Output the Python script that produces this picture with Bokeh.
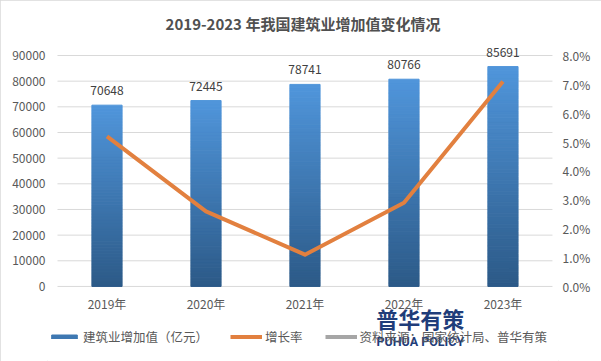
import numpy as np
from bokeh.plotting import figure
from bokeh.core.properties import value
from bokeh.models import (ColumnDataSource, Range1d, LinearAxis, FixedTicker, InlineStyleSheet,
                          PrintfTickFormatter, LabelSet, Label, Legend, LegendItem)
from bokeh.embed import file_html
from bokeh.resources import INLINE

# ---- data ----
years = ["2019年", "2020年", "2021年", "2022年", "2023年"]
value_added = [70648, 72445, 78741, 80766, 85691]   # 亿元
growth = [5.2, 2.6, 1.1, 2.9, 7.1]                    # %
left_ticks = [0, 10000, 20000, 30000, 40000, 50000, 60000, 70000, 80000, 90000]
right_ticks = [0, 1, 2, 3, 4, 5, 6, 7, 8]
series_names = ["建筑业增加值（亿元）", "增长率", "资料来源：国家统计局、普华有策"]
chart_title = "2019-2023 年我国建筑业增加值变化情况"
watermark = ["普华有策", "PUHUA POLICY"]

FONT = "Noto Sans CJK SC"
TXT = "#595959"
xs = np.arange(len(years)) + 0.5

# y axis: 90000 <-> 8 %, the frame extends below zero to host the category labels / legend
Y0, Y1 = -29250, 95850
P0, P1 = Y0 / 90000 * 8, Y1 / 90000 * 8

p = figure(width=601, height=361, output_backend="svg", toolbar_location=None,
           x_range=Range1d(-0.101, 5.061), y_range=Range1d(Y0, Y1),
           x_axis_location=None,
           min_border_left=47, min_border_right=43, min_border_top=40, min_border_bottom=0,
           title=chart_title)
p.stylesheets = [InlineStyleSheet(css=":host { outline: 1px solid #d9d9d9; outline-offset: -1px; }")]
p.outline_line_color = None
p.background_fill_color = "white"
p.border_fill_color = "white"
p.extra_y_ranges = {"pct": Range1d(P0, P1)}
p.xgrid.grid_line_color = None
p.ygrid.grid_line_color = None

p.title.align = "center"
p.title.text_font = FONT
p.title.text_font_size = "15px"
p.title.text_font_style = "bold"
p.title.text_color = "#505050"
p.title.standoff = 13

def style_axis(ax, standoff):
    ax.axis_line_color = None
    ax.major_tick_line_color = None
    ax.minor_tick_line_color = None
    ax.major_tick_out = 0
    ax.major_tick_in = 0
    ax.major_label_text_font = FONT
    ax.major_label_text_font_size = "12px"
    ax.major_label_text_color = TXT
    ax.major_label_standoff = standoff

p.yaxis[0].ticker = FixedTicker(ticks=left_ticks)
style_axis(p.yaxis[0], 2)

rax = LinearAxis(y_range_name="pct", ticker=FixedTicker(ticks=right_ticks),
                 formatter=PrintfTickFormatter(format="%.1f%%"))
style_axis(rax, 4)
p.add_layout(rax, "right")

# horizontal gridlines across the category area
p.segment(x0=0, x1=len(years), y0=left_ticks, y1=left_ticks, line_color="#d9d9d9", line_width=1)

# gradient bars built from values
N = 60
top_c = np.array([0x50, 0x96, 0xdb], dtype=float)
bot_c = np.array([0x2c, 0x59, 0x87], dtype=float)
sx, sb, st, sc = [], [], [], []
for x, v in zip(xs, value_added):
    edges = np.linspace(0, v, N + 1)
    for k in range(N):
        f = (k + 0.5) / N
        c = bot_c + (top_c - bot_c) * f
        sx.append(x); sb.append(edges[k]); st.append(edges[k + 1])
        sc.append("#%02x%02x%02x" % tuple(int(round(t)) for t in c))
bars_r = p.vbar(x="x", bottom="b", top="t", width=0.305, fill_color="c", line_color="c", line_width=1,
                source=ColumnDataSource(dict(x=sx, b=sb, t=st, c=sc)))

# growth line
line_r = p.line(xs, growth, y_range_name="pct", line_color="#E2803F", line_width=4, line_join="round")

# data labels
lab_src = ColumnDataSource(dict(x=xs, y=value_added, t=[str(v) for v in value_added]))
p.add_layout(LabelSet(x="x", y="y", text="t", source=lab_src, y_offset=14.5, text_align="center",
                      text_baseline="middle", text_font=value(FONT), text_font_size=value("12px"),
                      text_color="#404040"))

# category labels under the zero line
p.text(x=xs, y=[-6625] * len(years), text=years, text_align="center", text_baseline="middle",
       text_font=value(FONT), text_font_size=value("12px"), text_color=TXT)

# legend (source note shown as a grey legend entry; its line carries no data points)
src_leg = p.line(x=[np.nan, np.nan], y=[np.nan, np.nan], line_color="#a6a6a6", line_width=4)
legend = Legend(items=[LegendItem(label=series_names[0], renderers=[bars_r], index=N // 2),
                       LegendItem(label=series_names[1], renderers=[line_r]),
                       LegendItem(label=series_names[2], renderers=[src_leg])],
                orientation="horizontal", location=(1, 15), glyph_width=32, glyph_height=5,
                label_standoff=3, spacing=22, padding=0, margin=0, label_height=16,
                border_line_color=None, background_fill_alpha=0,
                label_text_font=FONT, label_text_font_size="12.5px", label_text_color=TXT)
p.add_layout(legend)

# watermark
p.add_layout(Label(x=3.665, y=-12470, text=watermark[0], text_align="center", text_baseline="middle",
                   text_font=FONT, text_font_size="22px", text_font_style="bold", text_color="#1f3d7a"))
p.add_layout(Label(x=3.665, y=-21430, text=watermark[1], text_align="center", text_baseline="middle",
                   text_font="Roboto", text_font_size="12.5px", text_font_style="bold",
                   text_color="#1f3d7a"))

open("out.html", "w").write(file_html(p, INLINE))
